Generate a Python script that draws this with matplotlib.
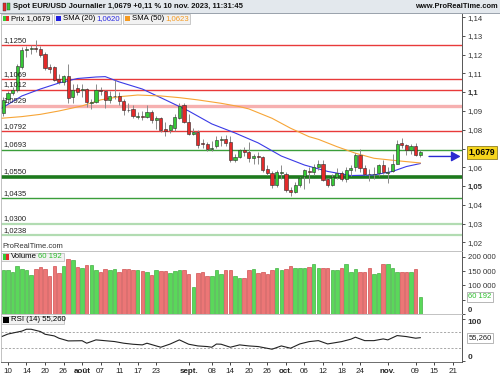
import matplotlib
matplotlib.use("Agg")
import matplotlib.pyplot as plt
from matplotlib.patches import Rectangle
from matplotlib.transforms import offset_copy
import numpy as np

plt.rcParams["font.family"] = ["Liberation Sans", "DejaVu Sans"]

# Daily candles, 7 Jul 2023 -> 10 Nov 2023 (one entry per trading day)
opens = [1.0889, 1.0962, 1.0997, 1.1012, 1.1135, 1.1225, 1.1228, 1.1238, 1.1228, 1.1205,
         1.1135, 1.1135, 1.1070, 1.1055, 1.1085, 1.0975, 1.1022, 1.1012, 1.1015, 1.0942,
         1.0948, 1.1012, 1.1005, 1.0958, 1.0978, 1.0982, 1.0955, 1.0907, 1.0908, 1.0870,
         1.0874, 1.0870, 1.0895, 1.0850, 1.0862, 1.0802, 1.0798, 1.0810, 1.0862, 1.0930,
         1.0843, 1.0780, 1.0790, 1.0727, 1.0725, 1.0698, 1.0713, 1.0748, 1.0752, 1.0733,
         1.0637, 1.0657, 1.0690, 1.0680, 1.0652, 1.0660, 1.0655, 1.0590, 1.0570, 1.0505,
         1.0570, 1.0565, 1.0478, 1.0470, 1.0505, 1.0555, 1.0580, 1.0577, 1.0600, 1.0620,
         1.0535, 1.0508, 1.0550, 1.0570, 1.0540, 1.0585, 1.0600, 1.0668, 1.0595, 1.0565,
         1.0563, 1.0567, 1.0612, 1.0570, 1.0582, 1.0620, 1.0731, 1.0719, 1.0692, 1.0713,
         1.0668]
highs = [1.0975, 1.1005, 1.1030, 1.1150, 1.1240, 1.1245, 1.1250, 1.1276, 1.1245, 1.1215,
         1.1150, 1.1140, 1.1095, 1.1090, 1.1149, 1.1045, 1.1045, 1.1045, 1.1020, 1.0962,
         1.1042, 1.1030, 1.1010, 1.1005, 1.1065, 1.1000, 1.0965, 1.0945, 1.0930, 1.0895,
         1.0900, 1.0930, 1.0905, 1.0875, 1.0870, 1.0840, 1.0830, 1.0885, 1.0945, 1.0945,
         1.0882, 1.0810, 1.0800, 1.0750, 1.0735, 1.0740, 1.0765, 1.0768, 1.0770, 1.0768,
         1.0670, 1.0700, 1.0710, 1.0737, 1.0670, 1.0680, 1.0660, 1.0610, 1.0580, 1.0585,
         1.0610, 1.0575, 1.0493, 1.0520, 1.0550, 1.0590, 1.0600, 1.0620, 1.0640, 1.0640,
         1.0545, 1.0565, 1.0595, 1.0580, 1.0600, 1.0610, 1.0675, 1.0695, 1.0610, 1.0590,
         1.0600, 1.0620, 1.0640, 1.0600, 1.0670, 1.0745, 1.0755, 1.0725, 1.0725, 1.0732,
         1.0690]
lows = [1.0873, 1.0945, 1.0985, 1.1000, 1.1125, 1.1185, 1.1205, 1.1215, 1.1185, 1.1120,
        1.1100, 1.1060, 1.1045, 1.1040, 1.0945, 1.0942, 1.0985, 1.0975, 1.0920, 1.0912,
        1.0940, 1.0985, 1.0915, 1.0945, 1.0965, 1.0930, 1.0877, 1.0895, 1.0865, 1.0855,
        1.0850, 1.0860, 1.0835, 1.0802, 1.0790, 1.0766, 1.0785, 1.0795, 1.0855, 1.0835,
        1.0770, 1.0770, 1.0705, 1.0703, 1.0685, 1.0685, 1.0705, 1.0715, 1.0715, 1.0630,
        1.0630, 1.0650, 1.0660, 1.0630, 1.0617, 1.0615, 1.0575, 1.0560, 1.0488, 1.0495,
        1.0540, 1.0470, 1.0448, 1.0465, 1.0495, 1.0482, 1.0515, 1.0560, 1.0585, 1.0525,
        1.0495, 1.0500, 1.0535, 1.0525, 1.0520, 1.0555, 1.0580, 1.0575, 1.0560, 1.0525,
        1.0535, 1.0555, 1.0565, 1.0517, 1.0575, 1.0615, 1.0705, 1.0666, 1.0672, 1.0660,
        1.0656]
closes = [1.0959, 1.0995, 1.1012, 1.1140, 1.1225, 1.1228, 1.1238, 1.1232, 1.1200, 1.1130,
          1.1125, 1.1065, 1.1055, 1.1085, 1.0970, 1.1012, 1.1003, 1.1018, 1.0948, 1.0948,
          1.1012, 1.1008, 1.0958, 1.0980, 1.0982, 1.0952, 1.0905, 1.0903, 1.0872, 1.0874,
          1.0870, 1.0895, 1.0850, 1.0860, 1.0800, 1.0795, 1.0825, 1.0870, 1.0925, 1.0843,
          1.0780, 1.0790, 1.0720, 1.0722, 1.0698, 1.0702, 1.0745, 1.0752, 1.0730, 1.0640,
          1.0657, 1.0692, 1.0682, 1.0650, 1.0658, 1.0653, 1.0588, 1.0570, 1.0505, 1.0575,
          1.0574, 1.0478, 1.0470, 1.0505, 1.0545, 1.0586, 1.0577, 1.0600, 1.0620, 1.0533,
          1.0508, 1.0550, 1.0568, 1.0540, 1.0585, 1.0595, 1.0668, 1.0595, 1.0565, 1.0563,
          1.0566, 1.0612, 1.0577, 1.0575, 1.0620, 1.0723, 1.0720, 1.0692, 1.0713, 1.0668,
          1.0679]
volumes = [152000, 152000, 148000, 166000, 158000, 152000, 136000, 158000, 164000, 157000,
           132000, 167000, 143000, 167000, 192000, 188000, 164000, 160000, 171000, 171000,
           152000, 148000, 158000, 152000, 158000, 146000, 158000, 158000, 154000, 154000,
           149000, 146000, 136000, 154000, 149000, 149000, 142000, 149000, 152000, 152000,
           138000, 94000, 143000, 145000, 134000, 132000, 152000, 138000, 152000, 152000,
           134000, 124000, 124000, 152000, 156000, 142000, 148000, 138000, 152000, 160000,
           152000, 156000, 167000, 160000, 160000, 160000, 164000, 174000, 160000, 160000,
           160000, 152000, 152000, 160000, 174000, 148000, 156000, 148000, 148000, 160000,
           138000, 144000, 174000, 174000, 160000, 148000, 148000, 148000, 148000, 156000,
           60192]

# moving averages and RSI (index = trading day)
sma20_idx = [-1, 4, 8, 12, 16, 20, 22, 25, 30, 35, 40, 45, 50, 55, 60, 65, 70, 75, 80, 84, 87, 90]
sma20_val = [1.0905, 1.0980, 1.1017, 1.1049, 1.1073, 1.1081, 1.1083, 1.1055, 1.1017, 1.0959,
             1.0900, 1.0831, 1.0783, 1.0730, 1.0660, 1.0612, 1.0578, 1.0556, 1.0559, 1.0578,
             1.0604, 1.0620]
sma50_idx = [-1, 4, 8, 12, 17, 21, 25, 29, 34, 38, 42, 47, 51, 53, 58, 62, 66, 68, 72, 76, 80, 85, 90]
sma50_val = [1.0860, 1.0870, 1.0882, 1.0900, 1.0927, 1.0959, 1.0976, 1.0985, 1.0980, 1.0971,
             1.0959, 1.0941, 1.0923, 1.0911, 1.0861, 1.0808, 1.0763, 1.0749, 1.0710, 1.0675,
             1.0648, 1.0635, 1.0623]
rsi_idx = [-1, 1, 4, 5, 6, 8, 9, 11, 12, 14, 17, 18, 20, 22, 24, 26, 28, 30, 31, 33, 34, 36,
           38, 40, 42, 44, 45, 46, 47, 49, 51, 53, 55, 58, 60, 62, 64, 66, 68, 70, 73, 75, 76,
           78, 80, 82, 83, 85, 87, 89, 90]
rsi_val = [55, 64, 71, 75.5, 75.5, 70, 63.5, 59.5, 54, 47.5, 48, 42, 50, 48, 46, 42, 39.5, 38,
           42, 35.5, 32.4, 40, 50, 39.6, 35.5, 34, 32.4, 40, 39.6, 32.4, 38, 35.5, 34, 27.6,
           35.5, 30, 40.3, 45.8, 48.2, 40.3, 45.8, 51.6, 56.4, 48.2, 48.2, 52.3, 50, 60.3,
           57.9, 54, 55.26]

# support / resistance levels drawn on the chart
levels = [1.1250, 1.1069, 1.1012, 1.0929, 1.0792, 1.0693, 1.0550, 1.0435, 1.0300, 1.0238]
level_labels = ["1,1250", "1,1069", "1,1012", "1,0929", "1,0792", "1,0693", "1,0550",
                "1,0435", "1,0300", "1,0238"]
level_colors = ["#e83a3a", "#e83a3a", "#e83a3a", "#f6b0b0", "#e83a3a", "#3a9e3a",
                "#1d7a1d", "#3a9e3a", "#b2dcb2", "#b2dcb2"]
level_widths = [1.0, 1.0, 1.0, 2.4, 1.0, 1.0, 2.6, 1.0, 1.6, 1.6]

tick_idx = [1, 5, 9, 13, 17, 21, 25, 29, 33, 40, 45, 49, 53, 57, 61, 65, 69, 73, 77, 83, 89, 93, 97]
tick_labels = ["10", "14", "20", "26", "août", "07", "11", "17", "23", "sept.", "08", "14",
               "20", "26", "oct.", "06", "12", "18", "24", "nov.", "09", "15", "21"]
month_labels = ["août", "sept.", "oct.", "nov."]

price_ticks = [1.02, 1.03, 1.04, 1.05, 1.06, 1.07, 1.08, 1.09, 1.10, 1.11, 1.12, 1.13, 1.14]
vol_ticks = [0, 50000, 100000, 150000, 200000]

GREEN = "#36c936"
RED = "#e42a2a"
W, H = 500, 375


def fx(x):
    return x / W


def fy(y):
    return 1 - y / H


def fmt_fr(v, nd):
    return f"{v:.{nd}f}".replace(".", ",")


def style_right_axis(a):
    a.yaxis.tick_right()
    a.tick_params(axis="y", length=2.5, width=0.6, pad=1.5, labelsize=5.6,
                  colors="#333333")
    a.tick_params(axis="x", length=0)
    for side in ["left", "top", "bottom"]:
        a.spines[side].set_color("#b8b8b8")
        a.spines[side].set_linewidth(0.6)
    a.spines["right"].set_color("#555555")
    a.spines["right"].set_linewidth(0.7)
    a.set_xticklabels([])


fig = plt.figure(figsize=(5, 3.75), dpi=100)
fig.patch.set_facecolor("white")

n = len(closes)
idx = np.arange(n)
up = [c >= o for o, c in zip(opens, closes)]
left_px, right_px = 1, 462
xlim = (-0.5, 99.0)

# ---- price panel
ax = fig.add_axes([fx(left_px), fy(251), fx(right_px) - fx(left_px), (251 - 13) / H])
ax.set_xlim(*xlim)
ax.set_ylim(1.0154, 1.1422)
style_right_axis(ax)
ax.set_yticks(price_ticks)
price_labels = []
for t in price_ticks:
    if abs(t - 1.10) < 1e-9:
        price_labels.append("1,1")
    elif abs(t - closes[-1]) < 0.004:
        price_labels.append("")   # hidden behind the last-price box
    else:
        price_labels.append(fmt_fr(t, 2))
ax.set_yticklabels(price_labels)
for t, lab in zip(price_ticks, ax.get_yticklabels()):
    if abs(t - 1.10) < 1e-9 or abs(t - 1.05) < 1e-9:
        lab.set_fontweight("bold")

for lv, lab, col, lw in zip(levels, level_labels, level_colors, level_widths):
    ax.axhline(lv, color=col, lw=lw, zorder=1)
    ax.annotate(lab, xy=(0, lv), xycoords=("axes fraction", "data"), xytext=(2, 1.2),
                textcoords="offset points", fontsize=5.5, color="#222222", va="bottom",
                zorder=6)

ax.plot(sma20_idx, sma20_val, color="#3a3ae6", lw=0.8, zorder=2)
ax.plot(sma50_idx, sma50_val, color="#f7a537", lw=0.8, zorder=2)

for i in range(n):
    ax.vlines(i, lows[i], highs[i], color="#8a8a8a", lw=0.7, zorder=3)
    lo = min(opens[i], closes[i])
    h = max(abs(closes[i] - opens[i]), 0.0003)
    ax.add_patch(Rectangle((i - 0.34, lo), 0.68, h, facecolor=GREEN if up[i] else RED,
                           edgecolor="#2a2a2a", lw=0.4, zorder=4))

# blue arrow pointing at the last price, drawn a few pixels under it
arrow_tr = offset_copy(ax.get_yaxis_transform(), fig=fig, x=0, y=-4, units="dots")
ax.annotate("", xy=(1, closes[-1]), xytext=(-33, 0), xycoords=arrow_tr,
            textcoords="offset pixels",
            arrowprops=dict(arrowstyle="-|>,head_length=0.55,head_width=0.3",
                            color="#2a2ad0", lw=1.0, shrinkA=0, shrinkB=1),
            annotation_clip=False)
ax.annotate(fmt_fr(closes[-1], 4), xy=(1, closes[-1]), xycoords=("axes fraction", "data"),
            xytext=(4.5, 0), textcoords="offset points", va="center", ha="left",
            fontsize=6.2, fontweight="bold", color="black", zorder=10,
            bbox=dict(boxstyle="square,pad=0.2", fc="#f5d41c", ec="#7a6a10", lw=0.5),
            annotation_clip=False)
ax.text(0.004, 0.003, "ProRealTime.com", transform=ax.transAxes, fontsize=5.5,
        color="#333333", va="bottom", ha="left")

# ---- volume panel
axv = fig.add_axes([fx(left_px), fy(314), fx(right_px) - fx(left_px), (314 - 251) / H])
axv.set_xlim(*xlim)
axv.set_ylim(0, 220000)
style_right_axis(axv)
axv.bar(idx, volumes, width=0.76, color=["#5ad85a" if u else "#ec7676" for u in up],
        edgecolor=["#27a327" if u else "#c83636" for u in up], lw=0.4, zorder=2)
axv.set_yticks(vol_ticks)
axv.set_yticklabels(["0" if t == 0 else ("" if abs(t - volumes[-1]) < 20000
                                        else f"{t:,}".replace(",", " "))
                     for t in vol_ticks])
axv.get_yticklabels()[0].set_fontweight("bold")
axv.get_yticklabels()[0].set_va("bottom")
axv.annotate(f"{volumes[-1]:,}".replace(",", " "), xy=(1, volumes[-1]),
             xycoords=("axes fraction", "data"), xytext=(4.5, 0), textcoords="offset points",
             va="center", ha="left", fontsize=5.5, color="#2fbf2f", zorder=10,
             bbox=dict(boxstyle="square,pad=0.2", fc="white", ec="#9a9a9a", lw=0.5),
             annotation_clip=False)

# ---- RSI panel
axr = fig.add_axes([fx(left_px), fy(362), fx(right_px) - fx(left_px), (362 - 314) / H])
axr.set_xlim(*xlim)
axr.set_ylim(-3, 112)
style_right_axis(axr)
axr.spines["bottom"].set_color("#555555")
axr.axhline(70, color="#9a9a9a", lw=0.6, ls=(0, (2.5, 2)))
axr.axhline(30, color="#9a9a9a", lw=0.6, ls=(0, (2.5, 2)))
axr.plot(rsi_idx, rsi_val, color="#222222", lw=0.8)
axr.set_yticks([0, 100])
axr.set_yticklabels(["0", "100"])
for lab in axr.get_yticklabels():
    lab.set_fontweight("bold")
    lab.set_fontsize(6)
axr.get_yticklabels()[0].set_va("bottom")
axr.get_yticklabels()[1].set_va("top")
axr.annotate(fmt_fr(rsi_val[-1], 3), xy=(1, rsi_val[-1]), xycoords=("axes fraction", "data"),
             xytext=(4.5, 0), textcoords="offset points", va="center", ha="left",
             fontsize=5.5, color="#222222", zorder=10,
             bbox=dict(boxstyle="square,pad=0.2", fc="white", ec="#9a9a9a", lw=0.5),
             annotation_clip=False)
axr.set_xticks(tick_idx)
axr.set_xticklabels(tick_labels)
axr.tick_params(axis="x", length=2.5, width=0.6, pad=1.5, labelsize=5.8, colors="#222222")
for lab in axr.get_xticklabels():
    if lab.get_text() in month_labels:
        lab.set_fontweight("bold")

# ---- header bar
fig.add_artist(Rectangle((0, fy(13)), 1, 13 / H, transform=fig.transFigure,
                         facecolor="#e3e8ed", edgecolor="none", zorder=0))
fig.add_artist(plt.Line2D([0, 1], [fy(13), fy(13)], transform=fig.transFigure,
                          color="#9aa3ad", lw=0.7))
fig.add_artist(Rectangle((fx(3), fy(11)), fx(3), 8 / H, transform=fig.transFigure,
                         facecolor=RED, edgecolor="#333", lw=0.3))
fig.add_artist(Rectangle((fx(7), fy(10)), fx(3), 7 / H, transform=fig.transFigure,
                         facecolor=GREEN, edgecolor="#333", lw=0.3))
fig.text(fx(13), fy(6.5), "Spot EUR/USD Journalier 1,0679 +0,11 % 10 nov. 2023, 11:31:45",
         fontsize=5.5, fontweight="bold", va="center", ha="left", color="#111111")
fig.text(fx(498), fy(6.5), "www.ProRealTime.com", fontsize=5.4, fontweight="bold",
         va="center", ha="right", color="#111111")


# ---- legend boxes
def legend_box(x0, x1, y0, y1):
    fig.add_artist(Rectangle((fx(x0), fy(y1)), fx(x1 - x0), (y1 - y0) / H,
                             transform=fig.transFigure, facecolor="#f2f2f2",
                             edgecolor="#b5b5b5", lw=0.5, zorder=5))


def swatch(x0, y0, col, col2=None):
    if col2 is None:
        fig.add_artist(Rectangle((fx(x0), fy(y0 + 5.5)), fx(5.5), 5.5 / H,
                                 transform=fig.transFigure, facecolor=col, edgecolor="none",
                                 zorder=6))
    else:
        fig.add_artist(Rectangle((fx(x0), fy(y0 + 5.5)), fx(2.75), 5.5 / H,
                                 transform=fig.transFigure, facecolor=col, edgecolor="none",
                                 zorder=6))
        fig.add_artist(Rectangle((fx(x0 + 2.75), fy(y0 + 5.5)), fx(2.75), 5.5 / H,
                                 transform=fig.transFigure, facecolor=col2, edgecolor="none",
                                 zorder=6))


legend_box(1, 52, 13.5, 23.5)
swatch(3, 15.8, GREEN, RED)
fig.text(fx(11), fy(18.6), "Prix 1,0679", fontsize=5.6, va="center", zorder=7)
legend_box(53.5, 121, 13.5, 23.5)
swatch(55.5, 15.8, "#2020e0")
fig.text(fx(63), fy(18.6), "SMA (20)", fontsize=5.6, va="center", zorder=7)
fig.text(fx(119.5), fy(18.6), "1,0620", fontsize=5.6, va="center", ha="right",
         color="#2a2ae0", zorder=7)
legend_box(122.5, 190, 13.5, 23.5)
swatch(124.5, 15.8, "#f59a20")
fig.text(fx(132), fy(18.6), "SMA (50)", fontsize=5.6, va="center", zorder=7)
fig.text(fx(188.5), fy(18.6), "1,0623", fontsize=5.6, va="center", ha="right",
         color="#f59a20", zorder=7)

legend_box(1, 63.5, 252.5, 261)
swatch(3, 254, GREEN, RED)
fig.text(fx(11), fy(256.8), "Volume", fontsize=5.6, va="center", zorder=7)
fig.text(fx(62), fy(256.8), "60 192", fontsize=5.6, va="center", ha="right",
         color="#2fbf2f", zorder=7)

legend_box(1, 64, 315.5, 324)
swatch(3, 317, "black")
fig.text(fx(11), fy(319.8), "RSI (14) 55,260", fontsize=5.6, va="center", zorder=7)

fig.savefig("out.png", dpi=100)
